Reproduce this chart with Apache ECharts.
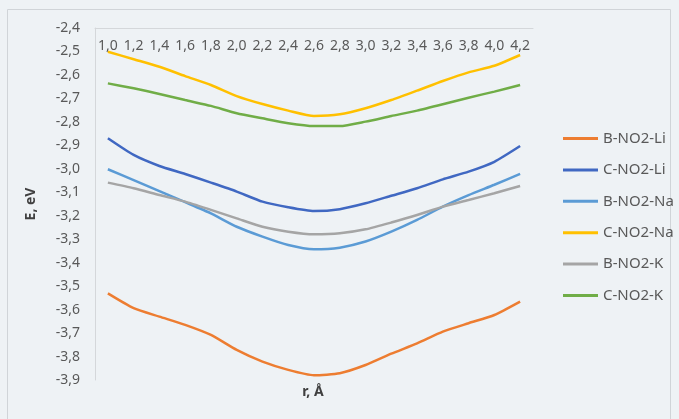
<!DOCTYPE html>
<html>
<head>
<meta charset="utf-8">
<script src="https://cdn.jsdelivr.net/npm/echarts@6/dist/echarts.min.js"></script>
<style>
html,body{margin:0;padding:0;background:#eef2f5;}
#c{width:679px;height:419px;}
</style>
</head>
<body>
<div id="c"></div>
<script>
const categories = ['1,0','1,2','1,4','1,6','1,8','2,0','2,2','2,4','2,6','2,8','3,0','3,2','3,4','3,6','3,8','4,0','4,2'];
const seriesNames = ['B-NO2-Li','C-NO2-Li','B-NO2-Na','C-NO2-Na','B-NO2-K','C-NO2-K'];
const bNO2Li = [-3.531,-3.594,-3.630,-3.665,-3.708,-3.772,-3.822,-3.857,-3.880,-3.871,-3.836,-3.788,-3.744,-3.694,-3.658,-3.623,-3.566];
const cNO2Li = [-2.870,-2.941,-2.988,-3.022,-3.059,-3.097,-3.140,-3.164,-3.180,-3.172,-3.147,-3.115,-3.083,-3.045,-3.012,-2.970,-2.903];
const bNO2Na = [-3.002,-3.048,-3.095,-3.142,-3.190,-3.247,-3.289,-3.325,-3.343,-3.336,-3.310,-3.268,-3.218,-3.161,-3.112,-3.068,-3.022];
const cNO2Na = [-2.501,-2.533,-2.565,-2.605,-2.643,-2.690,-2.724,-2.752,-2.775,-2.768,-2.742,-2.707,-2.667,-2.626,-2.589,-2.561,-2.515];
const bNO2K  = [-3.059,-3.083,-3.112,-3.140,-3.175,-3.211,-3.247,-3.268,-3.279,-3.275,-3.258,-3.229,-3.197,-3.161,-3.133,-3.104,-3.073];
const cNO2K  = [-2.636,-2.657,-2.681,-2.707,-2.732,-2.763,-2.785,-2.806,-2.818,-2.818,-2.799,-2.775,-2.752,-2.725,-2.697,-2.671,-2.643];
const colors = ['#ED7D31','#4068C2','#5B9BD5','#FFC000','#A5A5A5','#70AD47'];
const allData = [bNO2Li,cNO2Li,bNO2Na,cNO2Na,bNO2K,cNO2K];

const FONT = 'Noto Sans';
const chart = echarts.init(document.getElementById('c'));
chart.setOption({
  animation: false,
  backgroundColor: '#eef2f5',
  color: colors,
  grid: {left: 95, right: 146, top: 28, bottom: 39},
  xAxis: {
    type: 'category',
    data: categories,
    position: 'top',
    boundaryGap: true,
    axisLine: {show: true, lineStyle: {color: '#d4d7da', width: 1}},
    axisTick: {show: false},
    axisLabel: {inside: true, margin: 11, interval: 0, color: '#595959', fontSize: 14, fontFamily: FONT},
    splitLine: {show: false}
  },
  yAxis: {
    type: 'value',
    min: -3.9, max: -2.4, interval: 0.1,
    axisLine: {show: true, lineStyle: {color: '#d4d7da', width: 1}},
    axisTick: {show: false},
    splitLine: {show: false},
    axisLabel: {margin: 15, color: '#595959', fontSize: 14, fontFamily: FONT,
      formatter: v => v.toFixed(1).replace('.', ',')},
    name: 'E, eV',
    nameLocation: 'middle',
    nameGap: 57,
    nameRotate: 90,
    nameTextStyle: {color: '#404040', fontSize: 14, fontWeight: 'bold', fontFamily: FONT}
  },
  legend: {
    orient: 'vertical',
    left: 558,
    top: 126,
    icon: 'rect',
    itemWidth: 35,
    itemHeight: 3,
    itemGap: 16.4,
    textStyle: {color: '#595959', fontSize: 15, fontFamily: FONT},
    data: seriesNames
  },
  graphic: [
    {type: 'rect', silent: true, z: -1, shape: {x: 7.5, y: 9.5, width: 663, height: 430},
      style: {fill: 'none', stroke: '#d0d4d8', lineWidth: 1}},
    {type: 'text', silent: true,
      style: {text: 'r, Å', x: 313, y: 392, fill: '#404040', font: 'bold 14px "Noto Sans"', textAlign: 'center', textVerticalAlign: 'middle'}}
  ],
  series: seriesNames.map((n, i) => ({
    name: n,
    type: 'line',
    data: allData[i],
    symbol: 'none',
    smooth: 0.2,
    lineStyle: {width: 2.5, color: colors[i]}
  }))
});
</script>
</body>
</html>
